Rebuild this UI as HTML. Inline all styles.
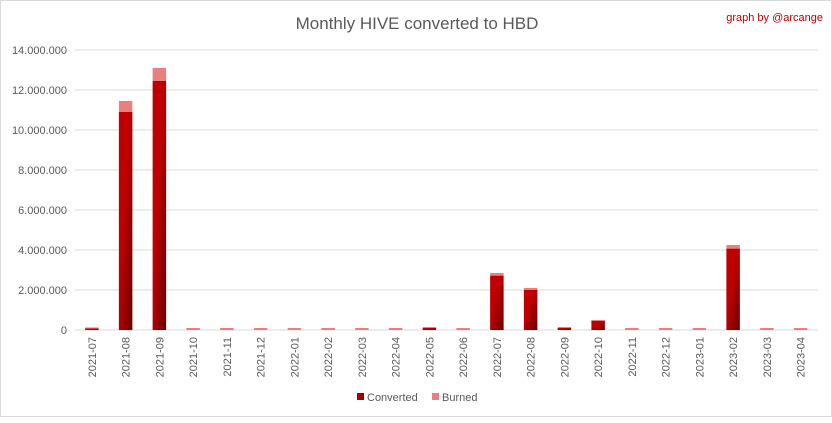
<!DOCTYPE html>
<html><head><meta charset="utf-8"><style>
body{margin:0;background:#fff;font-family:"Liberation Sans",sans-serif}
#c{position:absolute;left:0;top:0;width:830px;height:415px;border:1px solid #d9d9d9}
</style></head><body>
<div id="c">
<svg id="s" width="832" height="417">
<defs>
<linearGradient id="g" x1="0" y1="0" x2="1" y2="1"><stop offset="0.4" stop-color="#c00000"/><stop offset="1" stop-color="#6a0000"/></linearGradient>
</defs>
<text x="416" y="28" text-anchor="middle" font-size="17" fill="#595959">Monthly HIVE converted to HBD</text>
<text x="822" y="20" text-anchor="end" font-size="11" fill="#c00000">graph by @arcange</text>
<g id="grid"></g><g id="bars"></g><g id="xl"></g>
<g>
<rect x="356" y="392" width="7" height="7" fill="#a00000"/>
<text x="366" y="400" font-size="11" fill="#595959">Converted</text>
<rect x="431" y="392" width="7" height="7" fill="#e88080"/>
<text x="441" y="400" font-size="11" fill="#595959">Burned</text>
</g>
</svg></div>
<script>
const categories=["2021-07","2021-08","2021-09","2021-10","2021-11","2021-12","2022-01","2022-02","2022-03","2022-04","2022-05","2022-06","2022-07","2022-08","2022-09","2022-10","2022-11","2022-12","2023-01","2023-02","2023-03","2023-04"];
const converted=[80000,10900000,12450000,0,0,0,0,0,0,0,100000,0,2720000,2000000,100000,450000,0,0,0,4070000,0,0];
const burned=[50000,550000,650000,100000,100000,100000,100000,100000,100000,100000,50000,100000,130000,100000,50000,50000,100000,100000,100000,180000,100000,100000];
const yTicks=[0,2000000,4000000,6000000,8000000,10000000,12000000,14000000];
const ns="http://www.w3.org/2000/svg";
const L=74,R=816.5,B=329,T=49,YMAX=14000000;
const y=v=>B-(v/YMAX)*(B-T);
const step=(R-L)/categories.length;
const x=i=>L+step*(i+0.5);
function mk(t,a,p){const e=document.createElementNS(ns,t);for(const k in a)e.setAttribute(k,a[k]);p.appendChild(e);return e;}
const grid=document.getElementById('grid'),bars=document.getElementById('bars'),xl=document.getElementById('xl');
yTicks.forEach(v=>{
 const l=mk('line',{x1:L,x2:R,y1:y(v),y2:y(v),stroke:'#d9d9d9','stroke-width':1},grid);
 
 
 const t=mk('text',{x:L-8,y:y(v)+4,'text-anchor':'end','font-size':11,fill:'#595959'},grid);
 t.textContent=v===0?'0':v.toLocaleString('de-DE');
 
 
});
categories.forEach((c,i)=>{
 const w=13.5,cx=x(i);
 if(converted[i]>0){const r=mk('rect',{x:cx-w/2,y:y(converted[i]),width:w,height:B-y(converted[i]),fill:'url(#g)'},bars);
 
 }
 const r2=mk('rect',{x:cx-w/2,y:y(converted[i]+burned[i]),width:w,height:y(converted[i])-y(converted[i]+burned[i]),fill:'#e88080'},bars);
 
 
 const t=mk('text',{transform:`translate(${cx+4},${B+7}) rotate(-90)`,'text-anchor':'end','font-size':11,fill:'#595959'},xl);
 t.textContent=c;
 
 
});
</script>
</body></html>
